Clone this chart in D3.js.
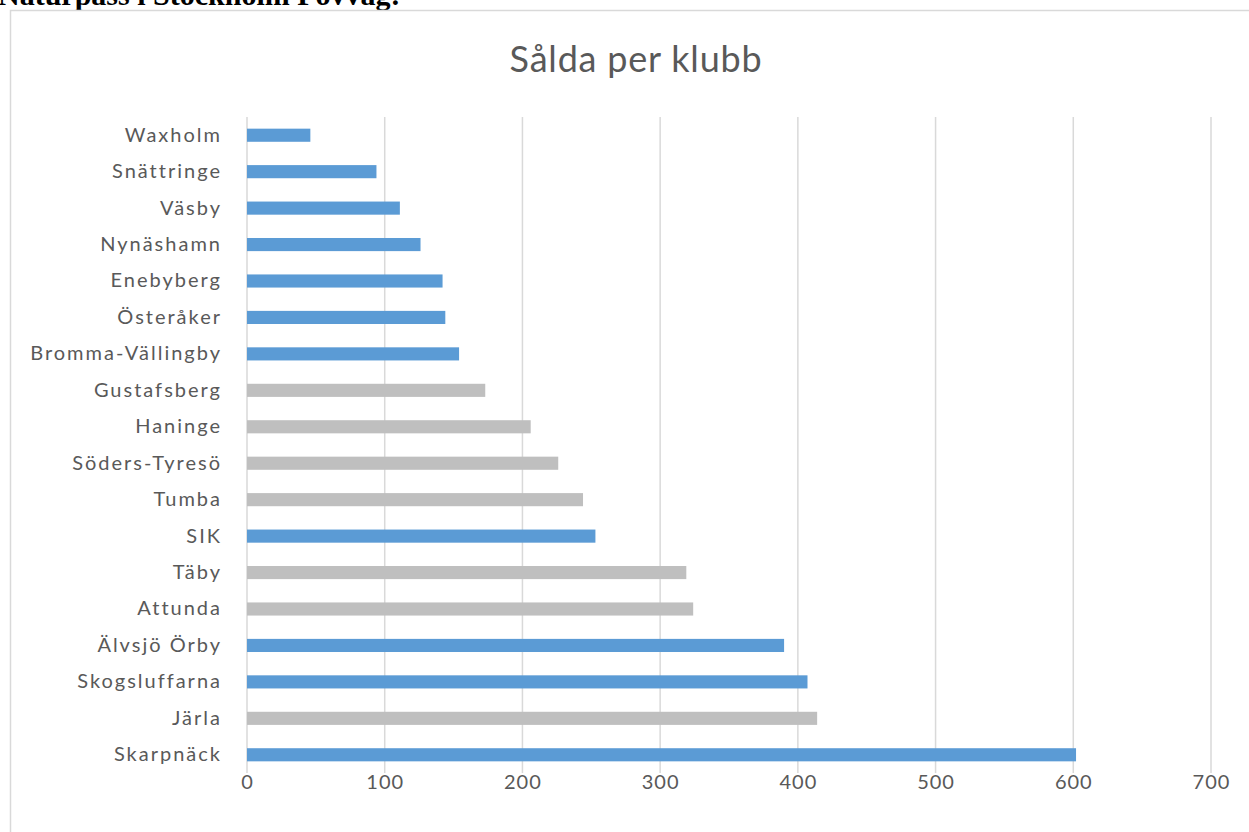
<!DOCTYPE html>
<html>
<head>
<meta charset="utf-8">
<script src="https://cdn.jsdelivr.net/npm/d3@7"></script>
<style>
  body { margin: 0; background: #fff; overflow: hidden; }
  svg { display: block; }
</style>
</head>
<body>
<svg id="chart" width="1249" height="832"></svg>
<script>
// clubs, top to bottom
var clubs = ["Waxholm", "Snättringe", "Väsby", "Nynäshamn", "Enebyberg", "Österåker",
    "Bromma-Vällingby", "Gustafsberg", "Haninge", "Söders-Tyresö", "Tumba", "SIK",
    "Täby", "Attunda", "Älvsjö Örby", "Skogsluffarna", "Järla", "Skarpnäck"];
var sold = [46, 94, 111, 126, 142, 144, 154, 173, 206, 226, 244, 253, 319, 324, 390, 407, 414, 602];
// which group a club belongs to (drawn blue or grey)
var group = ["A", "A", "A", "A", "A", "A", "A", "B", "B", "B", "B", "A", "B", "B", "A", "A", "B", "A"];
var xTicks = [0, 100, 200, 300, 400, 500, 600, 700];

var svg = d3.select("#chart");
var font = "Lato, 'Open Sans', sans-serif";

// heading of the page, cut off at the top
svg.append("text")
    .attr("x", -2).attr("y", 5)
    .style("font-family", "'Liberation Serif', 'Times New Roman', serif")
    .style("font-weight", "bold")
    .style("font-size", "30px")
    .attr("fill", "#000")
    .text("Naturpass i Stockholm Povväg:");

// chart frame
svg.append("rect")
    .attr("x", 10.5).attr("y", 10.5)
    .attr("width", 1300).attr("height", 900)
    .attr("fill", "none")
    .attr("stroke", "#d9d9d9")
    .attr("stroke-width", 1.5);

svg.append("text")
    .attr("x", 636).attr("y", 72)
    .attr("text-anchor", "middle")
    .style("font-family", font)
    .style("font-size", "36px")
    .style("letter-spacing", "0.8px")
    .attr("fill", "#595959")
    .text("Sålda per klubb");

var x = d3.scaleLinear().domain([0, 700]).range([247, 1211]);
var y = d3.scaleBand().domain(clubs).range([117, 773]).paddingInner(0.64).paddingOuter(0.32);
var colour = d3.scaleOrdinal().domain(["A", "B"]).range(["#5b9bd5", "#bfbfbf"]);

// vertical gridlines
svg.append("g").selectAll("line")
    .data(xTicks)
    .join("line")
    .attr("x1", function(d) { return x(d); })
    .attr("x2", function(d) { return x(d); })
    .attr("y1", 117).attr("y2", 773)
    .attr("stroke", "#d9d9d9")
    .attr("stroke-width", 1.5);

// bars
svg.append("g").selectAll("rect")
    .data(clubs)
    .join("rect")
    .attr("x", x(0))
    .attr("y", function(d) { return y(d); })
    .attr("width", function(d, i) { return x(sold[i]) - x(0); })
    .attr("height", y.bandwidth())
    .attr("fill", function(d, i) { return colour(group[i]); });

// category labels
var yAxis = d3.axisLeft(y).tickSize(0).tickPadding(25);
svg.append("g")
    .attr("transform", "translate(" + x(0) + ",0)")
    .call(yAxis)
    .call(function(g) { g.select(".domain").remove(); })
    .selectAll("text")
    .style("font-family", font)
    .style("font-size", "20px")
    .style("letter-spacing", "2px")
    .attr("fill", "#595959");

// value axis
var xAxis = d3.axisBottom(x).tickValues(xTicks).tickSize(0).tickPadding(0);
svg.append("g")
    .attr("transform", "translate(0,769)")
    .call(xAxis)
    .call(function(g) { g.select(".domain").remove(); })
    .selectAll("text")
    .attr("dy", "1em")
    .style("font-family", font)
    .style("font-size", "20px")
    .style("letter-spacing", "1px")
    .attr("fill", "#595959");
</script>
</body>
</html>
